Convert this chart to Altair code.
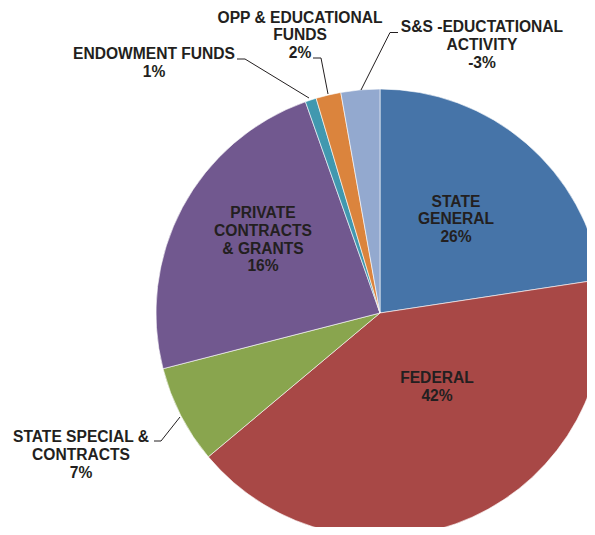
import altair as alt
import pandas as pd

# ---- data ----
categories = [
    "STATE GENERAL",
    "FEDERAL",
    "STATE SPECIAL & CONTRACTS",
    "PRIVATE CONTRACTS & GRANTS",
    "ENDOWMENT FUNDS",
    "OPP & EDUCATIONAL FUNDS",
    "S&S -EDUCTATIONAL ACTIVITY",
]
shares = [22.6, 41.3, 7.1, 23.6, 0.8, 1.8, 2.8]
label_text = [
    "STATE\nGENERAL\n26%",
    "FEDERAL\n42%",
    "STATE SPECIAL &\nCONTRACTS\n7%",
    "PRIVATE\nCONTRACTS\n& GRANTS\n16%",
    "ENDOWMENT FUNDS\n1%",
    "OPP & EDUCATIONAL\nFUNDS\n2%",
    "S&S -EDUCTATIONAL\nACTIVITY\n-3%",
]
colors = ["#4674a8", "#a84846", "#89a54e", "#71588f", "#4198af", "#db843d", "#93a9cf"]

# ---- layout (page pixels) ----
M = 8
W, H = 579, 519
CX, CY, R = 380, 313, 224
label_x = [456, 437, 81, 263, 154, 300, 482]
label_y = [206.5, 383.3, 442.3, 218.3, 59, 22.7, 32.3]
leader_cat = ["STATE SPECIAL & CONTRACTS"] * 3 + ["ENDOWMENT FUNDS"] * 3 + ["OPP & EDUCATIONAL FUNDS"] * 3 + ["S&S -EDUCTATIONAL ACTIVITY"] * 3
leader_x = [154, 161, 180, 237, 245, 309, 313, 321, 328, 398, 390, 361]
leader_y = [441, 441, 417, 59, 59, 98, 58, 58, 94, 32.5, 32.5, 90]

df = pd.DataFrame({"category": categories, "share": shares, "idx": list(range(len(categories)))})
lab = pd.DataFrame({"label": label_text, "lx": [v - M for v in label_x], "ly": [v - M for v in label_y]})
lead = pd.DataFrame({
    "cat": leader_cat,
    "px": [v - M for v in leader_x],
    "py": [v - M for v in leader_y],
    "k": list(range(len(leader_x))),
})

arcs = alt.Chart(df).mark_arc(radius=R, stroke="white", strokeWidth=0.6).encode(
    theta=alt.Theta("share:Q", stack=True),
    color=alt.Color("category:N", scale=alt.Scale(domain=categories, range=colors), legend=None),
    order=alt.Order("idx:Q"),
    x=alt.value(CX - M),
    y=alt.value(CY - M),
)

lines = alt.Chart(lead).mark_line(color="#231f20", strokeWidth=1).encode(
    x=alt.X("px:Q", scale=None),
    y=alt.Y("py:Q", scale=None),
    detail="cat:N",
    order="k:Q",
)

texts = alt.Chart(lab).mark_text(
    align="center", baseline="alphabetic", fontSize=15.6, fontWeight="bold",
    font="Liberation Sans", lineBreak="\n", lineHeight=17.7, color="#231f20",
).encode(
    x=alt.X("lx:Q", scale=None),
    y=alt.Y("ly:Q", scale=None),
    text="label:N",
)

chart = alt.layer(arcs, lines, texts).properties(
    width=W, height=H, padding=0, autosize=alt.AutoSizeParams(type="none"),
).configure_view(stroke=None)

chart.save("out.html", embed_options={"renderer": "svg", "actions": False})
